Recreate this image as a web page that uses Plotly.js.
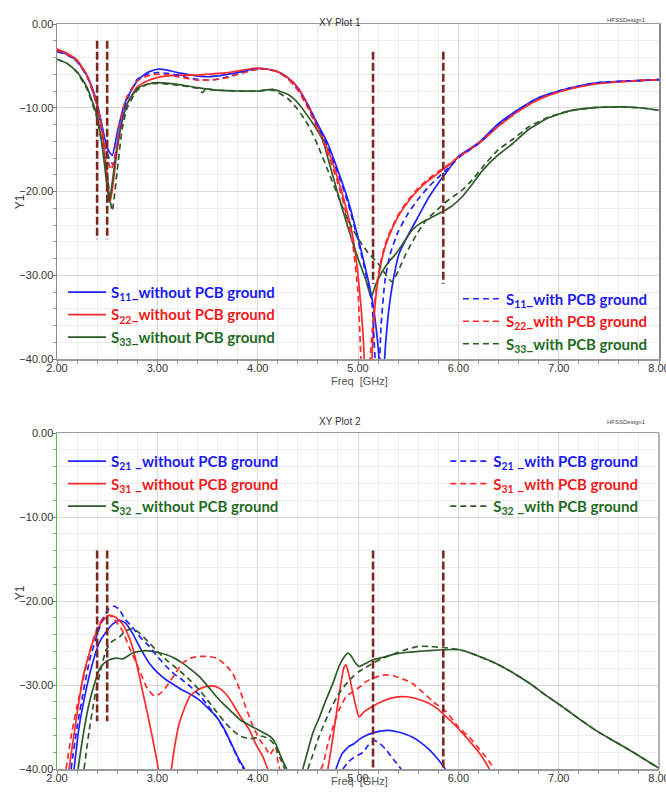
<!DOCTYPE html>
<html><head><meta charset="utf-8">
<script src="https://cdn.plot.ly/plotly-3.0.1.min.js"></script>
<style>html,body{margin:0;padding:0;background:#fff}#chart{width:666px;height:796px}</style>
</head><body><div id="chart"></div>
<script>
// ---------- XY Plot 1 (reflection) ----------
const s11WithoutF = [2.0,2.1,2.2,2.3,2.35,2.4,2.45,2.5,2.55,2.6,2.65,2.7,2.8,2.9,3.0,3.1,3.2,3.3,3.4,3.5,3.6,3.7,3.8,3.9,4.0,4.1,4.2,4.3,4.4,4.5,4.6,4.7,4.8,4.9,5.0,5.1,5.15,5.2,5.24,5.27,5.31,5.36,5.41,5.5,5.6,5.7,5.8,5.9,6.0,6.2,6.4,6.6,6.8,7.0,7.2,7.4,7.6,7.8,8.0];
const s11WithoutDb = [-3.2,-3.6,-4.4,-6.2,-7.6,-9.5,-12.2,-14.8,-15.7,-13.0,-10.5,-8.8,-6.8,-5.8,-5.4,-5.5,-5.8,-6.0,-6.2,-6.3,-6.2,-6.0,-5.8,-5.5,-5.3,-5.4,-5.7,-6.4,-7.6,-9.6,-12.0,-14.3,-17.5,-21.0,-25.5,-30.5,-33.5,-38.5,-45,-39,-33.8,-30.0,-27.4,-25.2,-23.0,-20.8,-19.0,-17.4,-15.8,-14.2,-11.9,-10.2,-8.8,-8.0,-7.4,-7.0,-6.85,-6.75,-6.65];
const s11WithF = [2.0,2.1,2.2,2.3,2.35,2.4,2.45,2.5,2.56,2.6,2.65,2.7,2.8,2.9,3.0,3.1,3.2,3.3,3.4,3.5,3.6,3.7,3.8,3.9,4.0,4.1,4.2,4.3,4.4,4.5,4.6,4.7,4.8,4.9,5.0,5.1,5.14,5.17,5.2,5.23,5.27,5.32,5.4,5.5,5.6,5.7,5.8,5.9,6.0,6.2,6.4,6.6,6.8,7.0,7.2,7.4,7.6,7.8,8.0];
const s11WithDb = [-3.3,-3.7,-4.5,-6.3,-7.8,-9.8,-12.8,-15.5,-16.8,-14.5,-11.0,-9.0,-6.6,-6.0,-5.8,-5.9,-6.1,-6.4,-6.6,-6.7,-6.6,-6.3,-6.0,-5.6,-5.4,-5.4,-5.7,-6.5,-7.8,-9.8,-12.2,-14.6,-17.8,-21.4,-25.8,-31.0,-33.5,-40,-44,-36,-30.5,-27.5,-24.8,-22.6,-20.9,-19.5,-18.3,-17.2,-16.0,-14.3,-12.0,-10.2,-8.8,-8.0,-7.4,-7.0,-6.85,-6.75,-6.65];
const s22WithoutF = [2.0,2.1,2.2,2.3,2.4,2.45,2.5,2.53,2.56,2.6,2.65,2.7,2.8,2.9,3.0,3.1,3.2,3.3,3.4,3.5,3.6,3.7,3.8,3.9,4.0,4.1,4.2,4.3,4.4,4.5,4.6,4.7,4.8,4.9,4.95,5.0,5.05,5.09,5.13,5.16,5.2,5.25,5.3,5.4,5.5,5.6,5.7,5.8,5.9,6.0,6.2,6.4,6.6,6.8,7.0,7.2,7.4,7.6,7.8,8.0];
const s22WithoutDb = [-3.0,-3.5,-4.3,-6.1,-9.8,-13.0,-18.0,-21.3,-19.0,-15.0,-11.5,-9.5,-7.5,-6.8,-6.4,-6.2,-6.1,-6.1,-6.1,-6.0,-5.9,-5.8,-5.6,-5.4,-5.3,-5.4,-5.7,-6.4,-7.6,-9.7,-12.3,-15.0,-18.5,-22.8,-25.5,-30.0,-37.0,-46,-42,-35,-30.5,-27.5,-25.6,-23.0,-21.2,-19.8,-18.7,-17.8,-16.9,-15.9,-14.3,-12.2,-10.4,-9.0,-8.1,-7.5,-7.1,-6.9,-6.75,-6.65];
const s22WithF = [2.0,2.1,2.2,2.3,2.4,2.45,2.5,2.54,2.58,2.62,2.66,2.7,2.8,2.9,3.0,3.1,3.2,3.3,3.4,3.5,3.6,3.7,3.8,3.9,4.0,4.1,4.2,4.3,4.4,4.5,4.6,4.7,4.8,4.9,4.95,5.0,5.03,5.07,5.12,5.16,5.2,5.25,5.3,5.4,5.5,5.6,5.7,5.8,5.9,6.0,6.2,6.4,6.6,6.8,7.0,7.2,7.4,7.6,7.8,8.0];
const s22WithDb = [-3.1,-3.6,-4.4,-6.2,-9.6,-12.5,-16.0,-17.4,-15.5,-12.5,-10.0,-8.6,-6.8,-6.2,-6.0,-6.1,-6.3,-6.5,-6.7,-6.7,-6.6,-6.4,-6.0,-5.7,-5.4,-5.4,-5.7,-6.5,-7.9,-10.0,-12.6,-15.5,-19.0,-23.5,-26.5,-32,-40,-46,-40,-34,-30.0,-27.2,-25.3,-22.8,-21.0,-19.6,-18.5,-17.6,-16.8,-15.9,-14.3,-12.2,-10.4,-9.0,-8.1,-7.5,-7.1,-6.9,-6.75,-6.65];
const s33WithoutF = [2.0,2.1,2.2,2.3,2.4,2.45,2.5,2.52,2.55,2.6,2.65,2.7,2.8,2.9,3.0,3.2,3.4,3.6,3.8,4.0,4.15,4.3,4.4,4.5,4.6,4.65,4.7,4.8,4.9,5.0,5.08,5.13,5.18,5.24,5.3,5.38,5.46,5.54,5.62,5.7,5.78,5.86,5.95,6.04,6.14,6.24,6.4,6.54,6.7,6.9,7.1,7.3,7.4,7.6,7.8,8.0];
const s33WithoutDb = [-4.2,-4.7,-5.7,-7.6,-11.0,-14.5,-19.5,-21.3,-19.0,-14.5,-11.5,-9.5,-7.7,-7.2,-7.0,-7.2,-7.6,-7.9,-8.0,-8.0,-7.8,-8.4,-9.4,-11.0,-12.8,-13.9,-16.0,-20.3,-24.3,-28.0,-30.6,-32.6,-31.0,-29.6,-28.5,-27.4,-26.0,-24.6,-23.8,-23.3,-22.8,-22.3,-21.6,-20.6,-19.1,-17.5,-15.6,-14.3,-12.6,-11.2,-10.4,-10.05,-9.95,-9.9,-10.0,-10.3];
const s33WithF = [2.0,2.1,2.2,2.3,2.4,2.45,2.5,2.55,2.6,2.65,2.7,2.8,2.9,3.0,3.2,3.4,3.45,3.48,3.6,3.8,4.0,4.15,4.3,4.4,4.5,4.6,4.7,4.8,4.9,5.0,5.1,5.2,5.27,5.34,5.4,5.48,5.58,5.68,5.78,5.86,5.95,6.04,6.14,6.24,6.4,6.55,6.7,6.9,7.1,7.3,7.4,7.6,7.8,8.0];
const s33WithDb = [-4.2,-4.7,-5.8,-7.8,-11.3,-14.5,-18.0,-22.3,-17.5,-12.5,-10.0,-7.9,-7.2,-7.1,-7.3,-7.7,-8.2,-7.8,-7.9,-8.0,-8.0,-7.9,-8.9,-10.2,-12.0,-14.5,-17.5,-20.5,-23.4,-25.6,-27.3,-28.6,-29.8,-30.8,-29.5,-27.4,-25.2,-23.4,-22.3,-21.4,-20.6,-19.8,-18.6,-17.1,-15.0,-13.7,-12.3,-11.1,-10.4,-10.05,-9.95,-9.9,-10.0,-10.3];

// ---------- XY Plot 2 (coupling) ----------
const s21WithoutF = [2.17,2.22,2.29,2.35,2.42,2.5,2.56,2.62,2.68,2.75,2.83,2.92,3.0,3.09,3.17,3.25,3.33,3.42,3.5,3.59,3.67,3.75,3.82,3.87,null,4.78,4.84,4.91,4.96,5.01,5.08,5.15,5.22,5.31,5.4,5.48,5.54,5.62,5.71,5.78,5.84,5.87];
const s21WithoutDb = [-40,-35,-30.6,-27.6,-25.0,-23.5,-22.7,-22.3,-22.6,-23.8,-25.6,-27.4,-28.5,-29.4,-30.0,-30.6,-31.1,-31.8,-32.7,-33.8,-35.3,-37.3,-39,-40,null,-40,-38.2,-37.3,-37.0,-36.5,-36.0,-35.7,-35.5,-35.4,-35.6,-35.9,-36.2,-36.8,-37.7,-38.6,-39.5,-40];
const s21WithF = [2.14,2.2,2.27,2.33,2.4,2.47,2.52,2.57,2.62,2.68,2.75,2.83,2.92,3.0,3.09,3.17,3.25,3.33,3.42,3.5,3.59,3.67,3.75,3.82,3.86,null,4.85,4.9,4.95,4.98,5.05,5.1,5.16,5.22,5.28,5.35,5.43];
const s21WithDb = [-40,-35,-30.3,-26.8,-24.0,-21.8,-20.9,-20.6,-21.0,-22.2,-23.1,-24.3,-25.4,-26.6,-27.8,-28.7,-29.4,-30.2,-31.2,-32.4,-33.8,-35.4,-37.4,-39.2,-40,null,-40,-39.2,-38.7,-38.5,-38.0,-37.2,-36.6,-37.0,-37.7,-38.8,-40];
const s31WithoutF = [2.12,2.18,2.26,2.32,2.39,2.45,2.52,2.58,2.65,2.7,2.75,2.8,2.85,2.9,2.95,3.0,3.01,null,3.14,3.18,3.22,3.27,3.32,3.4,3.48,3.55,3.62,3.7,3.75,3.82,3.92,3.98,4.05,4.1,null,4.7,4.74,4.78,4.82,4.86,4.88,4.91,4.95,4.98,5.01,5.06,5.15,5.25,5.35,5.48,5.6,5.71,5.8,5.88,5.96,6.04,6.12,6.21,6.27,6.31];
const s31WithoutDb = [-40,-35,-29,-26.3,-23.8,-22.4,-21.7,-21.9,-22.7,-23.8,-25.4,-27.8,-30.6,-33.3,-36.2,-39.3,-40,null,-40,-36.8,-34.5,-32.8,-31.4,-30.6,-30.2,-30.1,-30.4,-31.3,-32.2,-33.6,-35.4,-37,-38.5,-40,null,-40,-37,-33.8,-30.5,-27.9,-27.6,-28.8,-31.0,-32.6,-33.8,-33.2,-32.5,-31.9,-31.5,-31.4,-31.7,-32.2,-32.9,-33.8,-34.7,-35.7,-36.8,-38.1,-39.2,-40];
const s31WithF = [2.09,2.15,2.22,2.3,2.36,2.42,2.46,2.52,2.58,2.65,2.72,2.82,2.9,2.97,3.03,3.09,3.17,3.25,3.33,3.42,3.5,3.59,3.67,3.75,3.82,3.88,3.95,4.02,4.08,4.12,4.15,4.18,4.2,4.22,null,4.63,4.65,4.7,4.75,4.81,4.88,4.95,5.01,5.08,5.15,5.22,5.28,5.35,5.45,5.54,5.65,5.75,5.88,6.0,6.11,6.2,6.27,6.33,6.36];
const s31WithDb = [-40,-35.5,-31.4,-27.3,-24.6,-22.8,-22.0,-21.7,-22.3,-23.5,-25.5,-28.2,-30.4,-31.3,-31.0,-30.2,-28.8,-27.4,-26.8,-26.6,-26.6,-26.8,-27.5,-28.6,-30.5,-32.6,-34.8,-36.5,-37.5,-38.3,-37.8,-37.3,-39,-40,null,-40,-39.5,-37,-35.0,-33,-31.4,-30.8,-30.3,-29.6,-29.2,-28.9,-28.8,-28.9,-29.3,-29.8,-30.9,-32.0,-33.2,-35.0,-36.2,-37.5,-38.5,-39.5,-40];
const s32WithoutF = [2.21,2.26,2.32,2.37,2.42,2.47,2.52,2.59,2.65,2.7,2.75,2.82,2.89,3.0,3.09,3.17,3.25,3.33,3.42,3.5,3.59,3.67,3.75,3.83,3.92,4.0,4.08,4.14,4.18,4.22,4.26,4.29,null,4.45,4.5,4.55,4.62,4.68,4.75,4.81,4.86,4.9,4.93,4.97,5.01,5.08,5.15,5.25,5.38,5.5,5.6,5.71,5.85,6.01,6.1,6.21,6.37,6.54,6.71,6.87,7.04,7.2,7.37,7.54,7.7,7.85,8.0];
const s32WithoutDb = [-40,-36,-32.2,-30,-28.2,-27.4,-27.0,-26.8,-26.9,-26.6,-26.2,-26.0,-25.9,-26.1,-26.4,-26.8,-27.4,-28.1,-29.0,-30.1,-31.4,-32.4,-33.3,-34.2,-34.8,-35.3,-35.8,-36.3,-37.0,-38.2,-39.3,-40,null,-40,-37.8,-35.7,-33.7,-31.8,-29.8,-27.8,-26.7,-26.2,-26.5,-27.3,-27.8,-27.4,-27.0,-26.7,-26.3,-26.1,-26.0,-25.9,-25.8,-25.8,-26.1,-26.6,-27.4,-28.5,-29.8,-31.2,-32.6,-34.0,-35.4,-36.6,-37.7,-38.8,-39.9];
const s32WithF = [2.27,2.32,2.36,2.39,2.44,2.49,2.55,2.62,2.68,2.75,2.82,2.92,3.0,3.09,3.17,3.25,3.33,3.42,3.5,3.59,3.67,3.75,3.83,3.92,3.98,4.05,4.12,4.18,4.22,4.27,null,4.5,4.55,4.6,4.65,4.73,4.81,4.88,4.95,5.01,5.08,5.15,5.25,5.38,5.5,5.6,5.71,5.8,5.9,6.01,6.1,6.21,6.37,6.54,6.71,6.87,7.04,7.2,7.37,7.54,7.7,7.85,8.0];
const s32WithDb = [-40,-35.5,-32.5,-30.6,-28.0,-25.8,-24.8,-24.3,-23.6,-23.3,-23.8,-25.0,-26.0,-27.0,-27.8,-28.6,-29.5,-30.6,-31.8,-33.2,-34.4,-35.4,-36.1,-36.4,-36.3,-36.1,-36.5,-37.3,-38.6,-40,null,-40,-38.3,-36.5,-35.0,-32.8,-31.0,-29.9,-29.0,-28.4,-27.9,-27.4,-26.8,-26.2,-25.7,-25.4,-25.4,-25.5,-25.6,-25.8,-26.1,-26.6,-27.4,-28.5,-29.8,-31.2,-32.6,-34.0,-35.4,-36.6,-37.7,-38.8,-39.9];

// ---------- band marker lines ----------
const markerFreq = [2.4, 2.5, 5.15, 5.85];
const plot1MarkerTop = [-2.0, -2.0, -3.3, -3.3];
const plot1MarkerBottom = [-25.7, -25.7, -31.0, -31.0];
const plot2MarkerTop = [-14.0, -14.0, -14.0, -14.0];
const plot2MarkerBottom = [-34.3, -34.3, -40.0, -40.0];

const topNames = [
  ['S<sub>11</sub>_without PCB ground', '#1a1aef'],
  ['S<sub>22</sub>_without PCB ground', '#f01a1a'],
  ['S<sub>33</sub>_without PCB ground', '#1f6b1f'],
  ['S<sub>11</sub>_with PCB ground', '#1a1aef'],
  ['S<sub>22</sub>_with PCB ground', '#f01a1a'],
  ['S<sub>33</sub>_with PCB ground', '#1f6b1f']
];
const botNames = [
  ['S<sub>21</sub> _without PCB ground', '#1a1aef'],
  ['S<sub>31</sub> _without PCB ground', '#f01a1a'],
  ['S<sub>32</sub> _without PCB ground', '#1f6b1f'],
  ['S<sub>21</sub> _with PCB ground', '#1a1aef'],
  ['S<sub>31</sub> _with PCB ground', '#f01a1a'],
  ['S<sub>32</sub> _with PCB ground', '#1f6b1f']
];

const BLUE = '#2222ff', RED = '#ff2a2a', GREEN = '#2f5a2a', MARK = '#7a2a22';
function lbl(n){ return '<span style="color:' + n[1] + '">' + n[0] + '</span>'; }
function tr(x, y, color, dash, name, legend, xa, ya){
  return {x: x, y: y, type: 'scatter', mode: 'lines', xaxis: xa, yaxis: ya,
    line: {color: color, width: 1.7, dash: dash ? '6px,4px' : 'solid', shape: 'spline', smoothing: 0.5},
    connectgaps: false, name: lbl(name), legend: legend, hoverinfo: 'skip'};
}
function markers(top, bot, xa, ya){
  const x = [], y = [];
  markerFreq.forEach((f, i) => { x.push(f, f, null); y.push(top[i], bot[i], null); });
  return {x: x, y: y, type: 'scatter', mode: 'lines', xaxis: xa, yaxis: ya, showlegend: false,
    line: {color: MARK, width: 2.6, dash: '8px,3px'}, hoverinfo: 'skip'};
}

const data = [
  tr(s11WithoutF, s11WithoutDb, BLUE, false, topNames[0], 'legend', 'x', 'y'),
  tr(s22WithoutF, s22WithoutDb, RED, false, topNames[1], 'legend', 'x', 'y'),
  tr(s33WithoutF, s33WithoutDb, GREEN, false, topNames[2], 'legend', 'x', 'y'),
  tr(s11WithF, s11WithDb, BLUE, true, topNames[3], 'legend2', 'x', 'y'),
  tr(s22WithF, s22WithDb, RED, true, topNames[4], 'legend2', 'x', 'y'),
  tr(s33WithF, s33WithDb, GREEN, true, topNames[5], 'legend2', 'x', 'y'),
  markers(plot1MarkerTop, plot1MarkerBottom, 'x', 'y'),
  tr(s21WithoutF, s21WithoutDb, BLUE, false, botNames[0], 'legend3', 'x2', 'y2'),
  tr(s31WithoutF, s31WithoutDb, RED, false, botNames[1], 'legend3', 'x2', 'y2'),
  tr(s32WithoutF, s32WithoutDb, GREEN, false, botNames[2], 'legend3', 'x2', 'y2'),
  tr(s21WithF, s21WithDb, BLUE, true, botNames[3], 'legend4', 'x2', 'y2'),
  tr(s31WithF, s31WithDb, RED, true, botNames[4], 'legend4', 'x2', 'y2'),
  tr(s32WithF, s32WithDb, GREEN, true, botNames[5], 'legend4', 'x2', 'y2'),
  markers(plot2MarkerTop, plot2MarkerBottom, 'x2', 'y2')
];

const tickFont = {family: 'Liberation Sans, Arial, sans-serif', size: 11, color: '#333'};
function xax(anchor){
  return {anchor: anchor, domain: [0, 1], range: [2, 8], dtick: 1, tick0: 2, tickformat: '.2f',
    ticks: 'outside', ticklen: 3, tickcolor: '#888', tickfont: tickFont,
    ticklabelstandoff: -5, ticklabeloverflow: 'allow',
    showgrid: true, gridcolor: '#d9d9d9', gridwidth: 1, zeroline: false,
    showline: true, linecolor: '#9a9a9a', linewidth: 1.5, mirror: true,
    minor: {dtick: 0.2, showgrid: true, gridcolor: '#ececec', ticks: 'outside', ticklen: 3, tickcolor: '#999'}};
}
function yax(anchor, domain, lineColor, mirror){
  return {anchor: anchor, domain: domain, range: [-40, 0], dtick: 10, tick0: 0, tickformat: '.2f',
    ticks: 'outside', ticklen: 3, tickcolor: '#888', tickfont: tickFont,
    ticklabelstandoff: -3, ticklabeloverflow: 'allow',
    showgrid: true, gridcolor: '#d9d9d9', gridwidth: 1, zeroline: false,
    showline: true, linecolor: lineColor, linewidth: 1.5, mirror: mirror,
    minor: {dtick: 2, showgrid: true, gridcolor: '#ececec', ticks: 'outside', ticklen: 3, tickcolor: '#999'}};
}
const legFont = {family: 'Lato, sans-serif', size: 15, weight: 'bold'};
function leg(x, y){
  return {x: x, y: y, xanchor: 'left', yanchor: 'top', bgcolor: 'rgba(0,0,0,0)', font: legFont,
    tracegroupgap: 0, itemwidth: 38, traceorder: 'normal'};
}
const smallFont = {family: 'Liberation Sans, Arial, sans-serif', size: 10, color: '#333'};
const layout = {
  width: 666, height: 796,
  margin: {l: 57, r: 7, t: 24, b: 27},
  paper_bgcolor: '#fff', plot_bgcolor: '#fff',
  xaxis: xax('y'), yaxis: yax('x', [0.5503, 1], '#8a8a8a', true),
  xaxis2: xax('y2'), yaxis2: yax('x2', [0, 0.451], '#3ccc3c', false),
  legend: leg(0.010, 0.662), legend2: leg(0.666, 0.653),
  legend3: leg(0.010, 0.435), legend4: leg(0.645, 0.435),
  shapes: [
    {type: 'line', xref: 'x2 domain', yref: 'y2 domain', x0: 1, x1: 1, y0: 0, y1: 1,
     line: {color: '#9a9a9a', width: 1.5}, layer: 'above'}
  ],
  annotations: [
    {text: 'XY Plot 1', xref: 'paper', yref: 'paper', x: 0.47, y: 1.012, showarrow: false, font: smallFont},
    {text: 'HFSSDesign1', xref: 'paper', yref: 'paper', x: 0.982, y: 1.012, showarrow: false, font: {family: 'Liberation Sans, Arial', size: 6, color: '#444'}},
    {text: 'Y1', xref: 'paper', yref: 'paper', x: -0.075, y: 0.7745, showarrow: false, textangle: -90, font: {family: 'Liberation Sans, Arial', size: 12, color: '#333'}},
    {text: 'Freq  [GHz]', xref: 'paper', yref: 'paper', x: 0.503, y: 0.521, showarrow: false, font: {family: 'Liberation Sans, Arial', size: 11, color: '#555'}},
    {text: 'XY Plot 2', xref: 'paper', yref: 'paper', x: 0.47, y: 0.4658, showarrow: false, font: smallFont},
    {text: 'HFSSDesign1', xref: 'paper', yref: 'paper', x: 0.982, y: 0.4658, showarrow: false, font: {family: 'Liberation Sans, Arial', size: 6, color: '#444'}},
    {text: 'Y1', xref: 'paper', yref: 'paper', x: -0.075, y: 0.2242, showarrow: false, textangle: -90, font: {family: 'Liberation Sans, Arial', size: 12, color: '#333'}},
    {text: 'Freq  [GHz]', xref: 'paper', yref: 'paper', x: 0.503, y: -0.027, showarrow: false, font: {family: 'Liberation Sans, Arial', size: 11, color: '#555'}}
  ]
};
Plotly.newPlot('chart', data, layout, {staticPlot: true, displayModeBar: false});
</script></body></html>
